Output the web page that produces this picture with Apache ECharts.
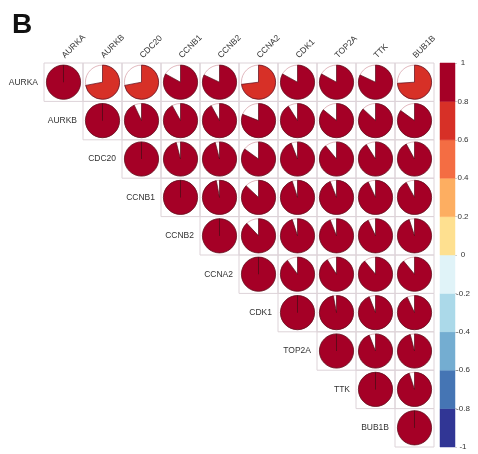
<!DOCTYPE html>
<html>
<head>
<meta charset="utf-8">
<script src="https://cdn.jsdelivr.net/npm/echarts@6/dist/echarts.min.js"></script>
<style>
  html, body { margin: 0; padding: 0; background: #fff; }
  #chart { width: 478px; height: 454px; }
</style>
</head>
<body>
<div id="chart"></div>
<script>
// genes, in plot order
const genes = ['AURKA', 'AURKB', 'CDC20', 'CCNB1', 'CCNB2', 'CCNA2', 'CDK1', 'TOP2A', 'TTK', 'BUB1B']

// upper triangle of the correlation matrix, one row per gene (starting at the diagonal)
const rowAURKA = [1, 0.72, 0.72, 0.83, 0.82, 0.73, 0.83, 0.83, 0.82, 0.74]
const rowAURKB = [1, 0.93, 0.92, 0.92, 0.81, 0.91, 0.86, 0.87, 0.85]
const rowCDC20 = [1, 0.96, 0.96, 0.85, 0.94, 0.89, 0.91, 0.92]
const rowCCNB1 = [1, 0.97, 0.87, 0.95, 0.94, 0.93, 0.92]
const rowCCNB2 = [1, 0.88, 0.95, 0.94, 0.93, 0.95]
const rowCCNA2 = [1, 0.9, 0.91, 0.89, 0.89]
const rowCDK1 = [1, 0.97, 0.94, 0.93]
const rowTOP2A = [1, 0.94, 0.96]
const rowTTK = [1, 0.95]
const rowBUB1B = [1]
const corrRows = [rowAURKA, rowAURKB, rowCDC20, rowCCNB1, rowCCNB2, rowCCNA2, rowCDK1, rowTOP2A, rowTTK, rowBUB1B]

// colour legend: breaks and RdYlBu colours (low -> high)
const breaks = [-1, -0.8, -0.6, -0.4, -0.2, 0, 0.2, 0.4, 0.6, 0.8, 1]
const palette = ['#313695', '#4575b4', '#74add1', '#abd9e9', '#e0f3f8', '#fee090', '#fdae61', '#f46d43', '#d73027', '#a50026']
const legendTicks = [-1, -0.8, -0.6, -0.4, -0.2, 0, 0.2, 0.4, 0.6, 0.8, 1]

const FONT = 'Liberation Sans, Arial, sans-serif'

const cells = []
corrRows.forEach((row, i) => {
  row.forEach((v, k) => {
    cells.push([i + k, i, v])
  })
})
const legendData = palette.map((c, i) => [0, breaks[i], breaks[i + 1], i])

const chart = echarts.init(document.getElementById('chart'))

chart.setOption({
  animation: false,
  textStyle: { fontFamily: FONT },
  graphic: [{
    type: 'text',
    left: 12,
    top: 11,
    style: { text: 'B', fontSize: 28, fontWeight: 'bold', fill: '#111', fontFamily: FONT }
  }],
  grid: [
    { left: 44, top: 63, width: 390, height: 384 },
    { left: 440, top: 63, width: 15, height: 384 }
  ],
  xAxis: [
    { gridIndex: 0, type: 'category', data: genes, show: false },
    { gridIndex: 1, type: 'category', data: ['bar'], show: false }
  ],
  yAxis: [
    { gridIndex: 0, type: 'category', data: genes, inverse: true, show: false },
    {
      gridIndex: 1,
      type: 'value',
      min: -1,
      max: 1,
      interval: 0.2,
      position: 'right',
      axisLine: { show: false },
      splitLine: { show: false },
      axisTick: { show: true, length: 2, lineStyle: { color: '#d0d0d0' } },
      axisLabel: {
        margin: 8,
        fontSize: 8,
        color: '#333',
        align: 'center',
        formatter: (v) => {
          const t = legendTicks.find((x) => Math.abs(x - v) < 1e-6)
          return t === undefined ? '' : String(Math.round(t * 10) / 10)
        }
      }
    }
  ],
  visualMap: {
    show: false,
    type: 'piecewise',
    seriesIndex: 0,
    dimension: 2,
    pieces: palette.map((c, i) => ({ gte: breaks[i], lt: i === palette.length - 1 ? 1.0001 : breaks[i + 1], color: c }))
  },
  series: [
    {
      type: 'custom',
      xAxisIndex: 0,
      yAxisIndex: 0,
      data: cells,
      renderItem(params, api) {
        const col = api.value(0)
        const row = api.value(1)
        const v = api.value(2)
        const c = api.coord([col, row])
        const s = api.size([1, 1])
        const r = Math.min(s[0], s[1]) / 2 * 0.89
        const color = api.visual('color')
        const full = Math.abs(v) >= 1
        const children = [
          {
            type: 'rect',
            shape: { x: c[0] - s[0] / 2, y: c[1] - s[1] / 2, width: s[0], height: s[1] },
            style: { fill: 'none', stroke: '#ddd3d8', lineWidth: 1 }
          },
          {
            type: 'circle',
            shape: { cx: c[0], cy: c[1], r: r },
            style: { fill: '#fff', stroke: '#d9a7ae', lineWidth: 0.8 }
          },
          {
            type: 'sector',
            shape: {
              cx: c[0], cy: c[1], r0: 0, r: r,
              startAngle: -Math.PI / 2,
              endAngle: -Math.PI / 2 + Math.PI * 2 * Math.abs(v) - (full ? 1e-4 : 0),
              clockwise: true
            },
            style: { fill: color, stroke: '#5a0a18', lineWidth: 0.7 }
          }
        ]
        if (col === row) {
          // row label, right-aligned next to the diagonal cell
          children.push({
            type: 'text',
            style: {
              x: c[0] - s[0] / 2 - 6,
              y: c[1],
              text: genes[row],
              align: 'right',
              verticalAlign: 'middle',
              fontSize: 8.5,
              fill: '#333',
              fontFamily: FONT
            }
          })
        }
        if (row === 0) {
          // column label, rotated 45 degrees above the first row
          children.push({
            type: 'text',
            x: c[0] + 3,
            y: c[1] - s[1] / 2 - 3,
            rotation: Math.PI / 4,
            style: {
              x: 0,
              y: 0,
              text: genes[col],
              align: 'left',
              verticalAlign: 'bottom',
              fontSize: 8.5,
              fill: '#333',
              fontFamily: FONT
            }
          })
        }
        return { type: 'group', children }
      }
    },
    {
      type: 'custom',
      xAxisIndex: 1,
      yAxisIndex: 1,
      data: legendData,
      renderItem(params, api) {
        const top = api.coord([0, api.value(2)])
        const bot = api.coord([0, api.value(1)])
        const w = api.size([1, 0])[0]
        return {
          type: 'rect',
          shape: { x: top[0] - w / 2, y: top[1], width: w, height: bot[1] - top[1] },
          style: { fill: palette[api.value(3)], stroke: palette[api.value(3)], lineWidth: 0.5 }
        }
      }
    }
  ]
})
</script>
</body>
</html>
